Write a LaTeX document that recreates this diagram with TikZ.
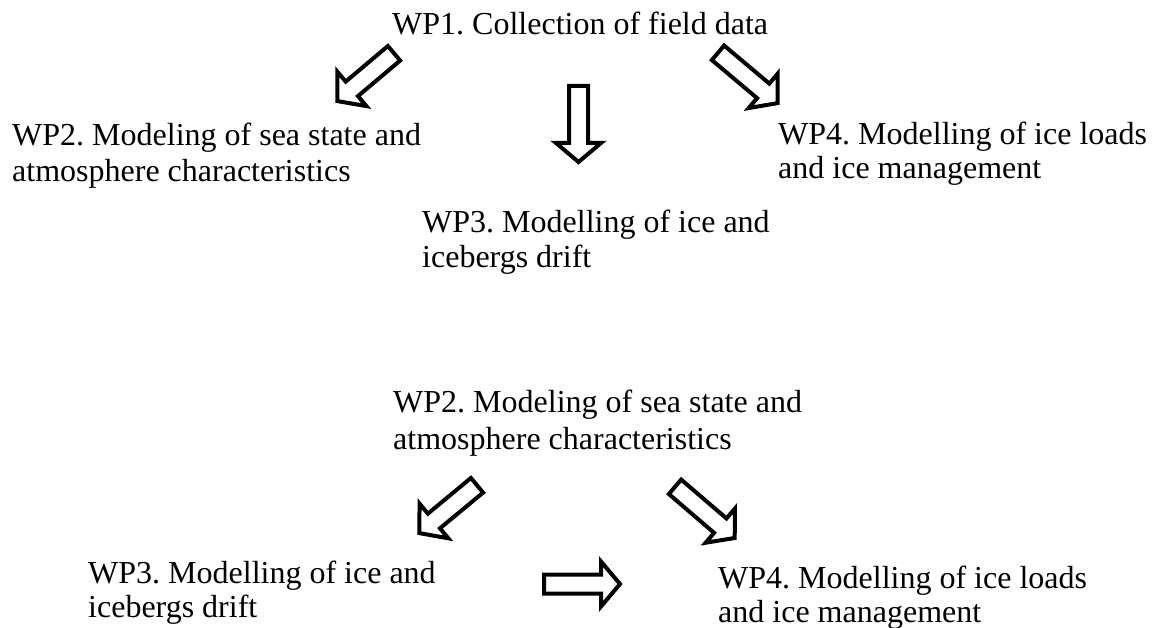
\documentclass[tikz,border=0pt]{standalone}
\usepackage{fontspec}
\setmainfont{Liberation Serif}
\frenchspacing
\usetikzlibrary{calc}
\tikzset{
  wplabel/.style={anchor=base west, inner sep=0pt, align=left, text=black},
  blockline/.style={draw=black, line width=4pt, line join=miter, fill=white},
}
\newcommand\blockarrow[3]{%
  \coordinate (#1-t) at (#2);
  \coordinate (#1-h) at (#3);
  \coordinate (#1-n) at ($(#1-h)!19pt!(#1-t)$);
  \draw[blockline] ($(#1-t)!9.5pt!-90:(#1-h)$)
    -- ($(#1-n)!9.5pt!-90:(#1-h)$)
    -- ($(#1-n)!22.5pt!-90:(#1-h)$)
    -- (#1-h)
    -- ($(#1-n)!22.5pt!90:(#1-h)$)
    -- ($(#1-n)!9.5pt!90:(#1-h)$)
    -- ($(#1-t)!9.5pt!90:(#1-h)$)
    -- cycle;}
\begin{document}
\begin{tikzpicture}[x=1pt,y=-1pt]
\useasboundingbox (0,0) rectangle (1158,628);
% top diagram (base = baseline of last line)
\node[wplabel, font=\fontsize{32}{36}\selectfont] (wp1) at (392,35) {WP1. Collection of field data};
\node[wplabel, font=\fontsize{32}{36}\selectfont] (wp2a) at (12,182) {WP2. Modeling of sea state and\\atmosphere characteristics};
\node[wplabel, font=\fontsize{32}{34}\selectfont] (wp4a) at (778,179) {WP4. Modelling of ice loads\\and ice management};
\node[wplabel, font=\fontsize{32}{35}\selectfont] (wp3a) at (422,267) {WP3. Modelling of ice and\\icebergs drift};
\blockarrow{a1}{394,53.3}{337.3,101.1}
\blockarrow{a2}{578.5,86}{578.5,162}
\blockarrow{a3}{718,52.8}{777.7,103.1}
% bottom diagram
\node[wplabel, font=\fontsize{32}{37}\selectfont] (wp2b) at (393,449) {WP2. Modeling of sea state and\\atmosphere characteristics};
\node[wplabel, font=\fontsize{32}{34}\selectfont] (wp3b) at (88,617) {WP3. Modelling of ice and\\icebergs drift};
\node[wplabel, font=\fontsize{32}{34}\selectfont] (wp4b) at (718,622) {WP4. Modelling of ice loads\\and ice management};
\blockarrow{a4}{477,485.3}{419.3,533.1}
\blockarrow{a5}{675,486.8}{734.7,538}
\blockarrow{a6}{544,584}{620,584}
\end{tikzpicture}
\end{document}
